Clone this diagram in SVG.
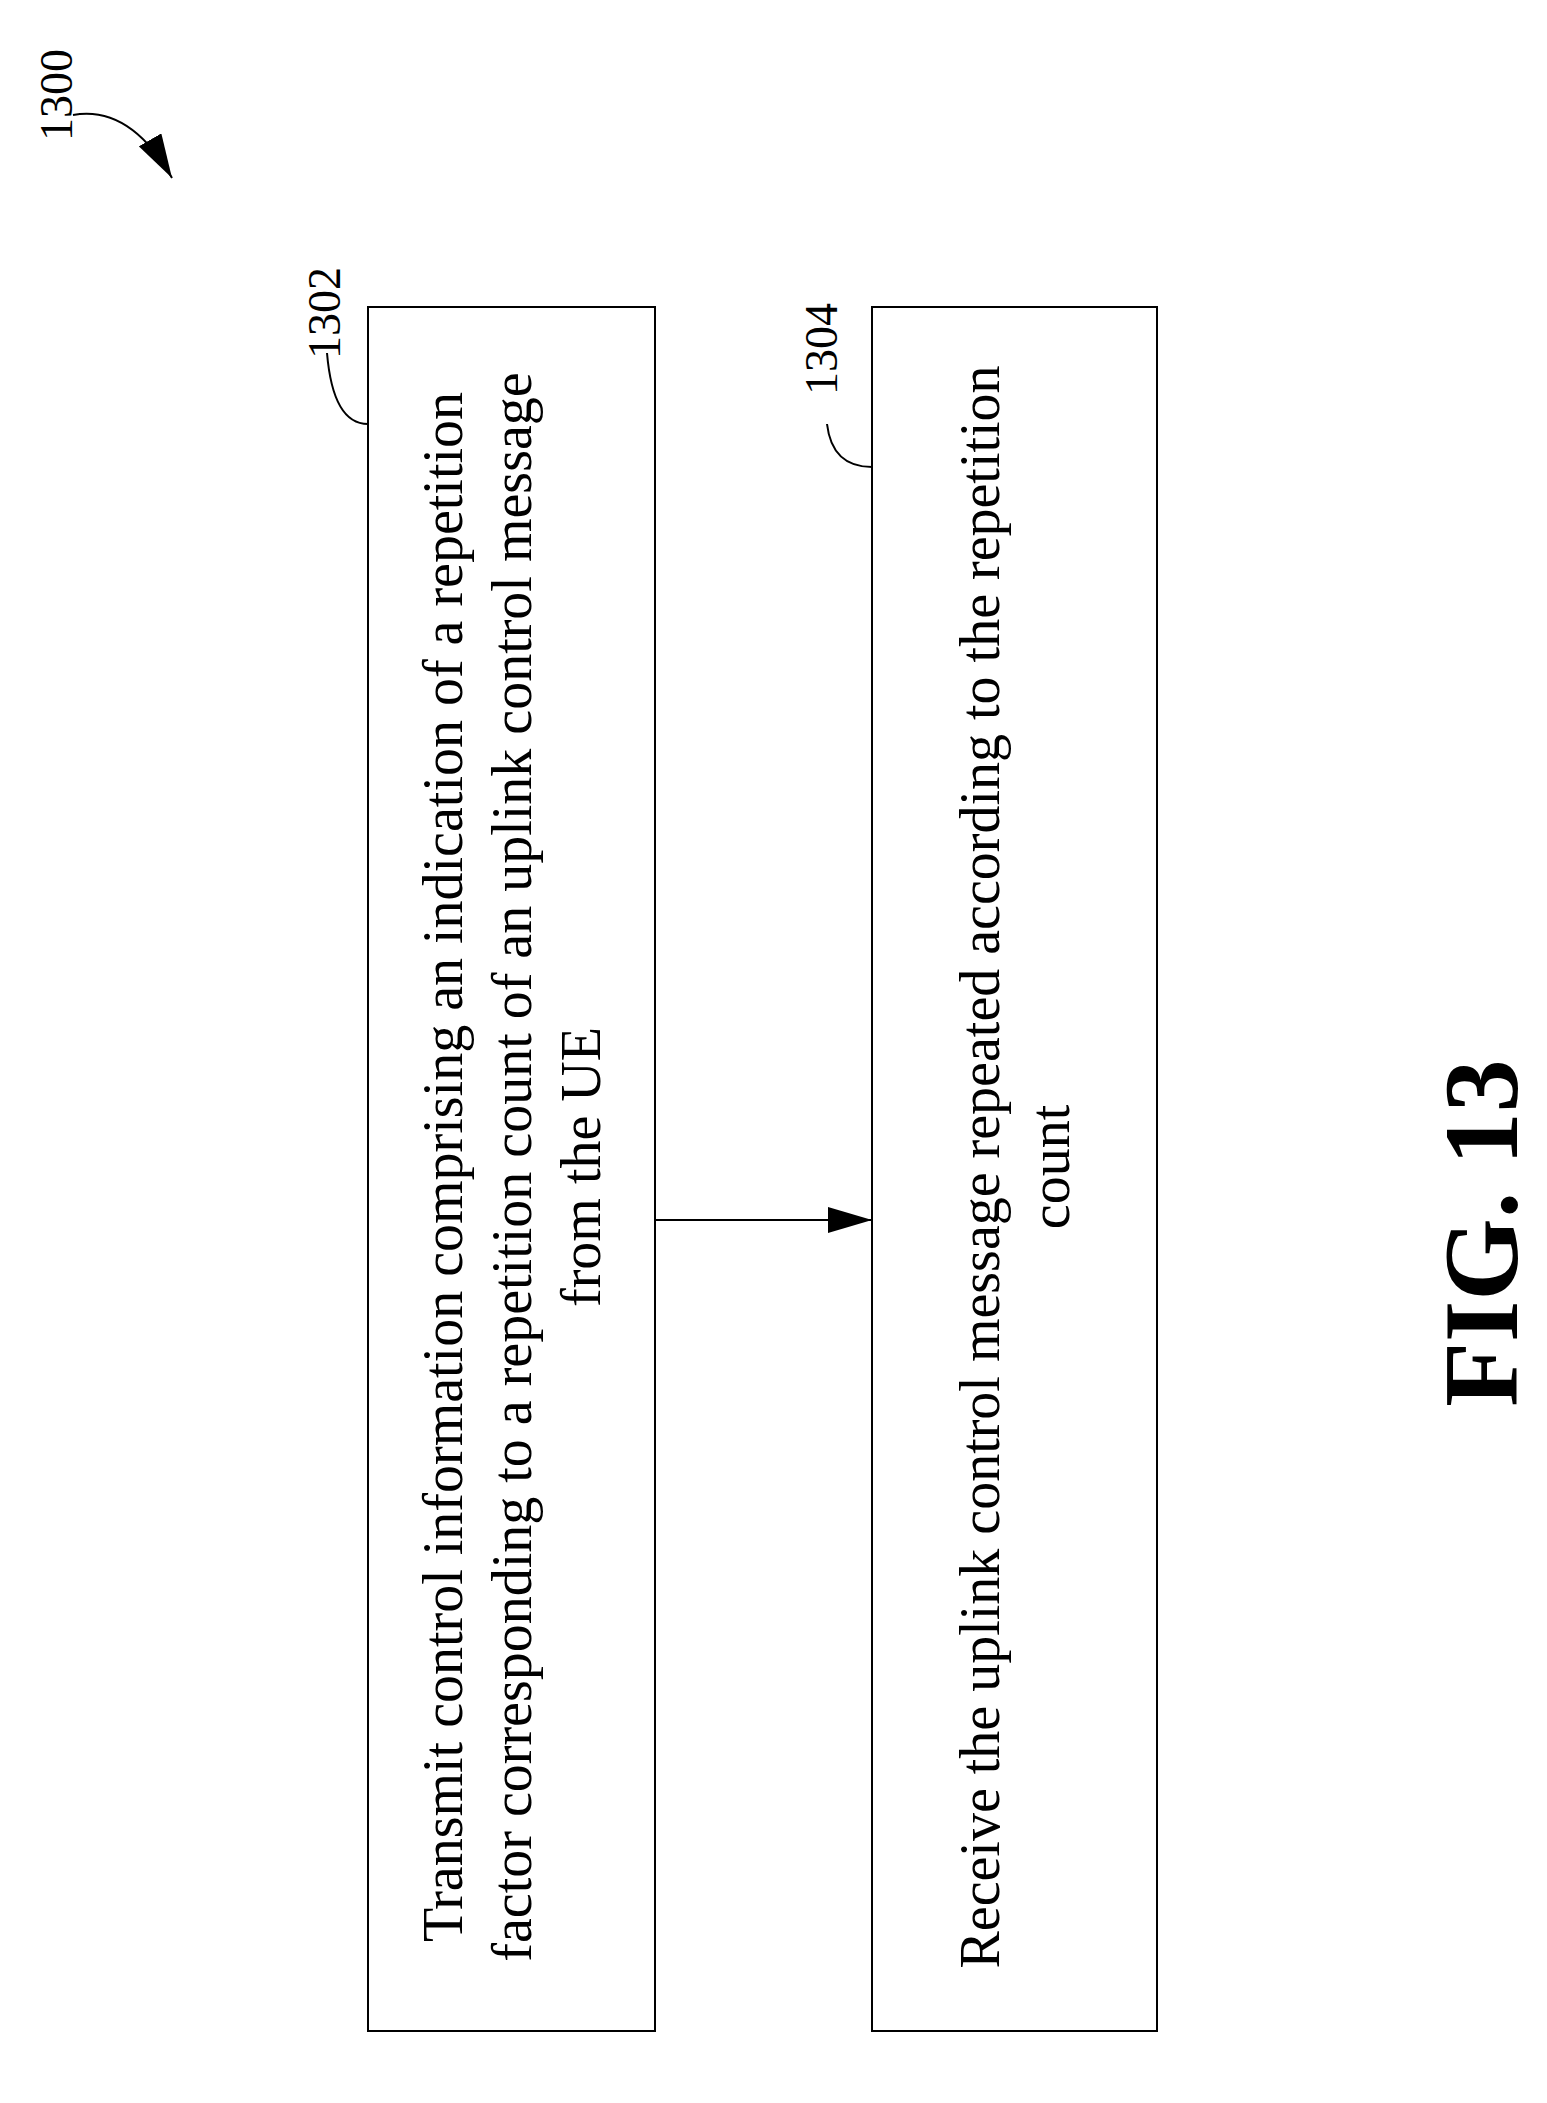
<svg xmlns="http://www.w3.org/2000/svg" width="1547" height="2103" viewBox="0 0 1547 2103">
<style>
.b{fill:none;stroke:#000;stroke-width:2}
.t{font-family:"Liberation Serif",serif;font-size:56px;text-anchor:middle}
.n{font-family:"Liberation Serif",serif;font-size:46px;text-anchor:middle}
.l{fill:none;stroke:#000;stroke-width:2}
</style>
<defs>
<marker id="a2" markerWidth="44" markerHeight="26" refX="44" refY="13" orient="auto" markerUnits="userSpaceOnUse"><path d="M0,0L44,13L0,26z"/></marker></defs>
<rect width="1547" height="2103" fill="#fff"/>
<g id="n1300"><text class="n" transform="translate(72,95) rotate(-90)">1300</text>
<path class="l" d="M73,115 Q130,105 172,178" marker-end="url(#a2)"/></g>
<g id="n1302"><rect class="b" x="368" y="307" width="287" height="1724"/>
<text class="n" transform="translate(340,313) rotate(-90)">1302</text>
<path class="l" d="M327,353 Q333,424 368,424"/>
<text class="t" transform="translate(462,1167) rotate(-90)">Transmit control information comprising an indication of a repetition</text>
<text class="t" transform="translate(531,1167) rotate(-90)">factor corresponding to a repetition count of an uplink control message</text>
<text class="t" transform="translate(600,1167) rotate(-90)">from the UE</text></g>
<g id="n1304"><rect class="b" x="872" y="307" width="285" height="1724"/>
<text class="n" transform="translate(837,349) rotate(-90)">1304</text>
<path class="l" d="M827,424 Q832,467 872,467"/>
<text class="t" transform="translate(999,1167) rotate(-90)">Receive the uplink control message repeated according to the repetition</text>
<text class="t" transform="translate(1069,1167) rotate(-90)">count</text></g>
<g id="connectors"><line x1="655" y1="1220" x2="872" y2="1220" stroke="#000" stroke-width="2" marker-end="url(#a2)"/></g>
<text transform="translate(1517,1233) rotate(-90)" style="font-family:'Liberation Serif',serif;font-weight:bold;font-size:106px;text-anchor:middle">FIG. 13</text>
</svg>
